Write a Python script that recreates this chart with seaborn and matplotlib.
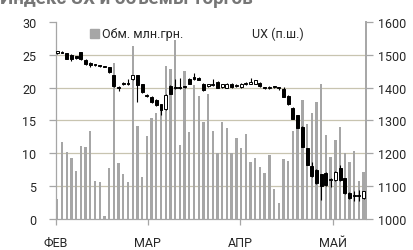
import matplotlib
matplotlib.use('Agg')
import matplotlib.pyplot as plt
import matplotlib.patches as mpatches
from matplotlib.lines import Line2D
import numpy as np
import pandas as pd
import seaborn as sns

# =============================================
# Data (one entry per trading day)
volume = [3.0, 11.8, 10.2, 9.3, 7.3, 11.1, 10.9, 13.4, 5.8, 5.6,
          0.4, 7.8, 23.8, 8.5, 6.8, 5.6, 26.4, 14.2, 6.4, 12.6,
          15.4, 16.2, 17.0, 23.3, 22.8, 27.2, 11.2, 22.6, 13.3, 20.4,
          18.7, 14.7, 19.0, 13.4, 10.0, 14.7, 13.9, 10.0, 12.4, 10.8,
          12.9, 8.7, 9.3, 7.9, 7.0, 9.8, 4.5, 2.4, 9.1, 8.8,
          13.4, 14.0, 18.1, 14.5, 16.1, 17.8, 20.5, 12.8, 9.5, 12.0,
          14.0, 10.1, 8.7, 10.3, 5.8, 7.2]

ux_open = [1505, 1510, 1506, 1500, 1495, 1508, 1484, 1476, 1469, 1468,
           1466, 1462, 1437, 1403, 1413, 1412, 1425, 1437, 1410, 1378,
           1372, 1362, 1349, 1334, 1405, 1402, 1403, 1403, 1427, 1432,
           1430, 1412, 1405, 1408, 1418, 1402, 1400, 1412, 1405, 1402,
           1410, 1412, 1412, 1414, 1400, 1399, 1402, 1398, 1397, 1375,
           1338, 1316, 1281, 1215, 1160, 1150, 1136, 1140, 1118, 1119,
           1154, 1124, 1079, 1070, 1074, 1064]
ux_close = [1511, 1507, 1488, 1486, 1490, 1486, 1471, 1470, 1467, 1465,
            1463, 1448, 1405, 1400, 1410, 1410, 1437, 1409, 1386, 1374,
            1355, 1347, 1331, 1379, 1382, 1398, 1399, 1401, 1412, 1426,
            1424, 1392, 1410, 1412, 1400, 1410, 1412, 1402, 1408, 1412,
            1412, 1416, 1422, 1404, 1398, 1401, 1400, 1396, 1372, 1349,
            1306, 1278, 1220, 1165, 1130, 1110, 1099, 1104, 1122, 1144,
            1119, 1079, 1064, 1068, 1070, 1084]
ux_high = [1513, 1512, 1507, 1501, 1497, 1510, 1486, 1478, 1471, 1469,
           1467, 1464, 1438, 1405, 1418, 1425, 1440, 1440, 1412, 1380,
           1374, 1364, 1351, 1380, 1407, 1425, 1428, 1405, 1429, 1445,
           1433, 1414, 1412, 1425, 1420, 1412, 1414, 1414, 1410, 1414,
           1416, 1428, 1424, 1416, 1402, 1406, 1404, 1400, 1402, 1377,
           1340, 1318, 1283, 1217, 1175, 1152, 1138, 1142, 1124, 1146,
           1164, 1126, 1081, 1084, 1088, 1086]
ux_low = [1503, 1506, 1486, 1480, 1488, 1484, 1469, 1462, 1466, 1464,
          1462, 1446, 1403, 1390, 1408, 1408, 1423, 1355, 1384, 1372,
          1353, 1345, 1318, 1332, 1380, 1396, 1397, 1399, 1410, 1422,
          1422, 1390, 1403, 1406, 1398, 1400, 1398, 1400, 1403, 1400,
          1408, 1410, 1410, 1402, 1396, 1397, 1398, 1394, 1370, 1347,
          1304, 1276, 1218, 1163, 1128, 1108, 1059, 1102, 1098, 1117,
          1117, 1077, 1060, 1054, 1054, 1060]

month_labels = ['ФЕВ', 'МАР', 'АПР', 'МАЙ']
month_pos = [-0.3, 19.2, 38.8, 58.5]

left_ticks = [0, 5, 10, 15, 20, 25, 30]
right_ticks = [1000, 1100, 1200, 1300, 1400, 1500, 1600]

# =============================================
# Styling
bar_color = '#a6a6a6'
grid_color = '#c8c4b0'
spine_color = '#a6a6a6'
text_color = '#262626'
tickFontSize = 9

sns.set_theme(style='white')
plt.rcParams['font.family'] = ['Roboto', 'DejaVu Sans']

fig = plt.figure(figsize=(4.14, 2.51), dpi=100)
ax = fig.add_axes([0.135, 0.1235, 0.749, 0.785])

df = pd.DataFrame({'day': np.arange(len(volume)), 'volume': volume})
sns.barplot(data=df, x='day', y='volume', color=bar_color, saturation=1,
            width=0.5, linewidth=0, ax=ax)

ax.set_ylim(0, 30)
ax.set_yticks(left_ticks)
ax.set_xlim(-0.3, 65.5)
ax.set_xticks(month_pos)
ax.set_xticklabels(month_labels)
ax.set_xlabel('')
ax.set_ylabel('')
for t in left_ticks[1:-1]:
    ax.axhline(t, color=grid_color, lw=0.9, zorder=0)
ax.set_axisbelow(True)

for s in ['top', 'right']:
    ax.spines[s].set_visible(False)
for s in ['left', 'bottom']:
    ax.spines[s].set_color(spine_color)
    ax.spines[s].set_linewidth(0.9)

ax.tick_params(axis='y', direction='out', length=5, width=0.9, color=spine_color,
               pad=9, labelsize=tickFontSize, labelcolor=text_color, left=True)
ax.tick_params(axis='x', direction='out', length=4, width=0.9, color=spine_color,
               pad=8, labelsize=tickFontSize, labelcolor=text_color, bottom=True)

# =============================================
# Candles on the right axis
ax2 = ax.twinx()
ax2.set_ylim(1000, 1600)
ax2.set_yticks(right_ticks)
ax2.grid(False)
idx = np.arange(len(ux_open))
o = np.array(ux_open)
c = np.array(ux_close)
up = c >= o
ax2.vlines(idx, ux_low, ux_high, color='black', lw=0.8, zorder=2)
body = np.where(np.abs(c - o) < 3, 3, c - o)
ax2.bar(idx[up], body[up], bottom=o[up], width=0.62, color='white',
        edgecolor='black', linewidth=0.7, zorder=3)
ax2.bar(idx[~up], body[~up], bottom=o[~up], width=0.62, color='black',
        edgecolor='black', linewidth=0.7, zorder=3)

for s in ['top', 'left', 'bottom']:
    ax2.spines[s].set_visible(False)
ax2.spines['right'].set_color(spine_color)
ax2.spines['right'].set_linewidth(1.4)
ax2.tick_params(axis='y', direction='out', length=5, width=0.9, color=spine_color,
                pad=4, labelsize=tickFontSize, labelcolor=text_color, right=True)

# =============================================
# Legend and title
handles = [mpatches.Patch(color=bar_color), Line2D([], [], color='none')]
ax.legend(handles, ['Обм. млн.грн.', 'UX (п.ш.)'], loc='center left',
          bbox_to_anchor=(0.11, 0.94), ncol=2, frameon=False,
          fontsize=tickFontSize, handlelength=0.75, handleheight=0.75,
          handletextpad=0.2, columnspacing=4.6, labelcolor=text_color,
          borderpad=0, borderaxespad=0)

fig.text(0.0, 1 - 4 / 251, 'Индекс UX и объемы торгов', fontsize=13.5,
         fontweight='bold', color='#767676', va='baseline', ha='left')

plt.savefig('out.png', dpi=100)
